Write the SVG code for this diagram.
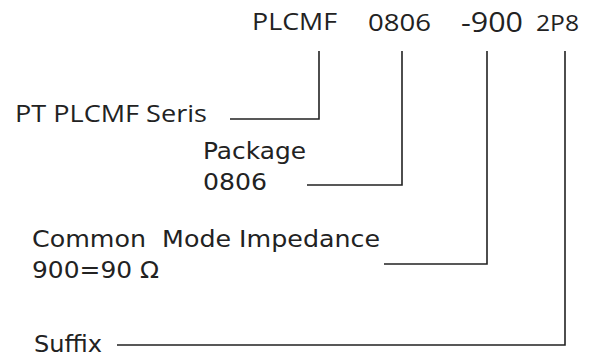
<svg xmlns="http://www.w3.org/2000/svg" width="601" height="359" viewBox="0 0 601 359">
<style>
.t{font-family:"Open Sans","Liberation Sans",sans-serif;fill:#222;}
.m{font-family:"DejaVu Sans","Liberation Sans",sans-serif;fill:#222;}
.c{fill:none;stroke:#222;stroke-width:1.6;}
</style>
<rect width="601" height="359" fill="#fff"/>
<g id="code">
<text class="t" x="252" y="30" font-size="23" textLength="85" lengthAdjust="spacingAndGlyphs">PLCMF</text>
<text class="t" x="368" y="31" font-size="23" textLength="63" lengthAdjust="spacingAndGlyphs">0806</text>
<text class="t" x="461" y="32" font-size="27" textLength="62" lengthAdjust="spacingAndGlyphs">-900</text>
<text class="t" x="536" y="31" font-size="22" textLength="43" lengthAdjust="spacingAndGlyphs">2P8</text>
</g>
<g id="series">
<text class="t" x="15" y="122" font-size="23" textLength="192" lengthAdjust="spacingAndGlyphs">PT PLCMF Seris</text>
</g>
<g id="package">
<text class="m" x="203" y="159" font-size="23" textLength="103" lengthAdjust="spacingAndGlyphs">Package</text>
<text class="m" x="203" y="190" font-size="23" textLength="64" lengthAdjust="spacingAndGlyphs">0806</text>
</g>
<g id="impedance">
<text class="m" x="32" y="247" font-size="23" textLength="348" lengthAdjust="spacingAndGlyphs" xml:space="preserve">Common  Mode Impedance</text>
<text class="m" x="32" y="278" font-size="23" textLength="127" lengthAdjust="spacingAndGlyphs">900=90 Ω</text>
</g>
<g id="suffix">
<text class="m" x="34" y="352" font-size="23" textLength="68" lengthAdjust="spacingAndGlyphs">Suffix</text>
</g>
<g id="connectors">
<polyline class="c" points="319,51 319,119 230,119"/>
<polyline class="c" points="402,51 402,185 307,185"/>
<polyline class="c" points="487,51 487,264 384,264"/>
<polyline class="c" points="565,51 565,345 117,345"/>
</g>
</svg>
